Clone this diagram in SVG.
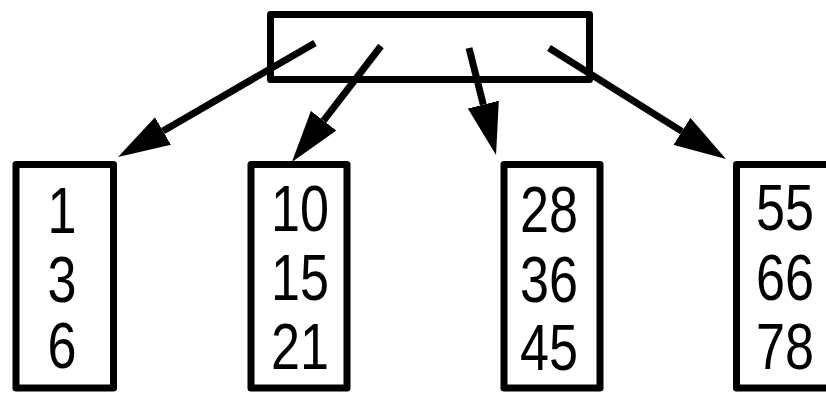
<svg xmlns="http://www.w3.org/2000/svg" width="826" height="393" viewBox="0 0 826 393">
<style>
.box{fill:#fff;stroke:#000;stroke-width:7;stroke-linejoin:round}
.edge{fill:none;stroke:#000;stroke-width:7;marker-end:url(#ah)}
.t{font-family:"Liberation Sans",Arial,sans-serif;font-size:64px;fill:#000;text-anchor:middle}
</style>
<defs>
<marker id="ah" markerUnits="userSpaceOnUse" markerWidth="52" markerHeight="32" refX="0" refY="16" orient="auto" viewBox="0 0 52 32">
<path d="M0,0 L52,16 L0,32 z" fill="#000"/>
</marker>
</defs>
<g id="root"><rect class="box" x="270.5" y="14.5" width="319" height="65"/></g>
<g id="leaf1"><rect class="box" x="16" y="164.5" width="97.5" height="223.5"/>
<text class="t" x="62" y="233" textLength="29" lengthAdjust="spacingAndGlyphs">1</text>
<text class="t" x="62" y="302" textLength="29" lengthAdjust="spacingAndGlyphs">3</text>
<text class="t" x="62" y="368" textLength="29" lengthAdjust="spacingAndGlyphs">6</text></g>
<g id="leaf2"><rect class="box" x="251" y="164.5" width="96" height="223.5"/>
<text class="t" x="300" y="231" textLength="58" lengthAdjust="spacingAndGlyphs">10</text>
<text class="t" x="300" y="300" textLength="58" lengthAdjust="spacingAndGlyphs">15</text>
<text class="t" x="300" y="369" textLength="58" lengthAdjust="spacingAndGlyphs">21</text></g>
<g id="leaf3"><rect class="box" x="504" y="164.5" width="96" height="223.5"/>
<text class="t" x="549" y="232" textLength="58" lengthAdjust="spacingAndGlyphs">28</text>
<text class="t" x="549" y="302" textLength="58" lengthAdjust="spacingAndGlyphs">36</text>
<text class="t" x="549" y="370" textLength="58" lengthAdjust="spacingAndGlyphs">45</text></g>
<g id="leaf4"><rect class="box" x="736.5" y="164.5" width="96" height="223.5"/>
<text class="t" x="785" y="230" textLength="58" lengthAdjust="spacingAndGlyphs">55</text>
<text class="t" x="785" y="300" textLength="58" lengthAdjust="spacingAndGlyphs">66</text>
<text class="t" x="785" y="369" textLength="58" lengthAdjust="spacingAndGlyphs">78</text></g>
<g id="connectors">
<path class="edge" d="M315,43 L163,131"/>
<path class="edge" d="M381,46 L323.6,120.7"/>
<path class="edge" d="M469,48 L483.3,104.6"/>
<path class="edge" d="M549,48 L681.9,131.4"/>
</g>
</svg>
